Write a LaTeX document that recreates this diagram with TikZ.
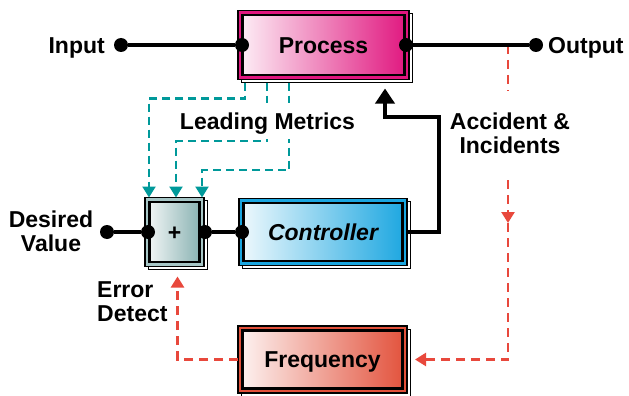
\documentclass[tikz,border=0pt]{standalone}
\usepackage{fontspec}
\setmainfont{Liberation Sans}
\usetikzlibrary{arrows.meta,shadows,calc}
\definecolor{procC}{HTML}{E0157E}
\definecolor{ctrlC}{HTML}{1AA6E0}
\definecolor{freqC}{HTML}{E2503A}
\definecolor{sumB}{HTML}{A6C6C6}
\definecolor{sumC}{HTML}{82ADAD}
\definecolor{tealC}{HTML}{00999A}
\definecolor{redC}{HTML}{E8483C}
\tikzset{
  blk/.style n args={2}{rectangle, draw=black, line width=1.6pt, fill=#1,
    inner sep=0pt, outer sep=0pt,
    general shadow={shadow xshift=3pt, shadow yshift=-3pt, fill=white, draw=black, line width=0.9pt},
    path picture={\draw[line width=2.4pt, left color=#2!6, right color=#2]
      ([shift={(4.5pt,-4.5pt)}]path picture bounding box.north west) rectangle
      ([shift={(-4.5pt,4.5pt)}]path picture bounding box.south east);},
    font=\fontsize{23}{24}\selectfont\bfseries, text height=16.5pt, text depth=0pt},
  lbl/.style={font=\fontsize{23}{24}\selectfont\bfseries, inner sep=0pt},
  onel/.style={text height=16.5pt, text depth=0pt},
  dot/.style={circle, fill=black, inner sep=0pt, minimum size=14pt},
  wire/.style={draw=black, line width=3.6pt},
  tdash/.style={draw=tealC, line width=2.4pt, dash pattern=on 8pt off 5pt},
  rdash/.style={draw=redC, line width=2.4pt, dash pattern=on 9pt off 6pt},
  ttip/.style={-{Triangle[width=13pt,length=11pt]}},
}
\begin{document}
\begin{tikzpicture}[x=1pt,y=-1pt]
\useasboundingbox (0,0) rectangle (629,396);
% boxes
\node[blk={procC}{procC}, minimum width=171pt, minimum height=69pt] (process) at (323.5,45) {Process};
\node[blk={ctrlC}{ctrlC}, minimum width=168pt, minimum height=67pt] (ctrl) at (323,232) {\itshape Controller};
\node[blk={freqC}{freqC}, minimum width=169pt, minimum height=67pt] (freq) at (322.5,359.5) {Frequency};
\node[blk={sumB}{sumC}, minimum width=59pt, minimum height=69pt] (sum) at (174.5,232) {+};
% teal dashed leading metrics
\draw[tdash, ttip] ([xshift=7pt,yshift=-3pt]process.south west) -- ++(0,16) -| ([xshift=4pt]sum.north west);
\draw[tdash, ttip] ([xshift=29pt,yshift=-3pt]process.south west) -- ++(0,58.5) -| ([xshift=31pt]sum.north west);
\draw[tdash, ttip] ([xshift=51pt,yshift=-3pt]process.south west) -- ++(0,87.5) -| ([xshift=57pt]sum.north west);
% red dashed
\coordinate (rtap) at (508,45);
\coordinate (rmid) at (508,223);
\draw[rdash, ttip] (rtap) -- (rmid);
\draw[rdash, ttip] (rmid) |- ([xshift=8pt]freq.east);
\draw[rdash, ttip] (freq.west) -| ([xshift=3pt,yshift=-10pt]sum.south);
% labels
\node[lbl, onel, anchor=east] (tin) at (105,45) {Input};
\node[lbl, onel, anchor=west] (tout) at (548,45) {Output};
\node[lbl, align=center] (tdes) at (51,231) {Desired\\Value};
\node[lbl, align=left, anchor=west] (terr) at (97,301.5) {Error\\Detect};
\node[lbl, onel, fill=white, minimum height=36pt, inner xsep=3pt] (tlead) at (267.5,121) {Leading Metrics};
\node[lbl, align=center, fill=white, inner ysep=22pt, inner xsep=2pt] (tacc) at (510,133.5) {Accident \&\\Incidents};
% dots
\node[dot] (inp) at (121,45) {};
\node[dot] (pL) at (242,45) {};
\node[dot] (pR) at (406,45) {};
\node[dot] (outp) at (536,45) {};
\node[dot] (dv) at (107,232) {};
\node[dot] (sL) at (148,232) {};
\node[dot] (sR) at (205,232) {};
\node[dot] (cL) at (242,232) {};
% wires
\draw[wire] (inp) -- (pL);
\draw[wire] (pR) -- (outp);
\draw[wire] (dv) -- (sL);
\draw[wire] (sR) -- (cL);
\coordinate (cb) at (439,117);
\draw[wire, -{Triangle[width=19pt,length=15pt]}] (ctrl.east) -| (cb) -| ([xshift=61.5pt,yshift=-9pt]process.south);
\end{tikzpicture}
\end{document}
